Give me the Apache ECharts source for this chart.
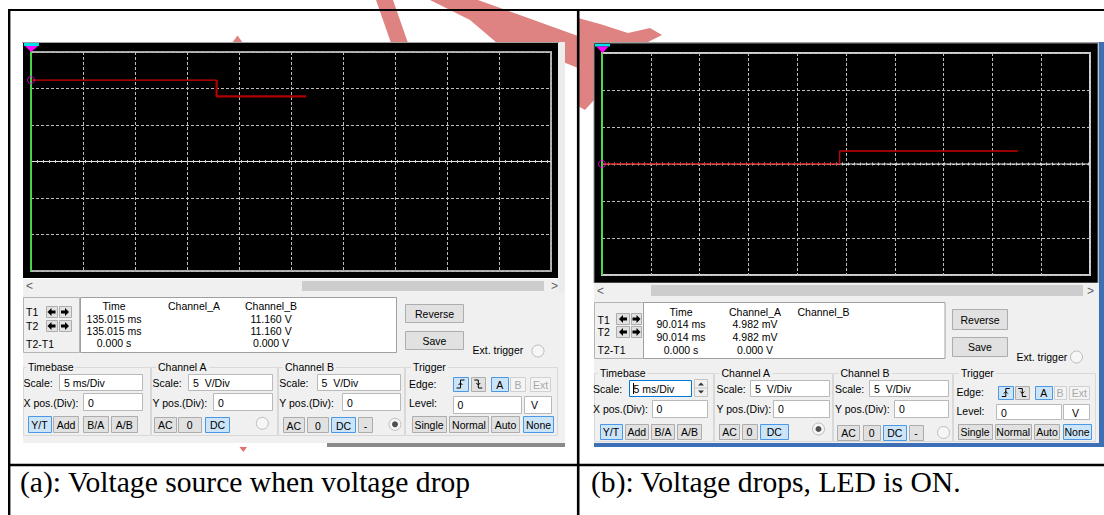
<!DOCTYPE html>
<html><head><meta charset="utf-8">
<script src="https://cdn.jsdelivr.net/npm/echarts@6/dist/echarts.min.js"></script>
<style>html,body{margin:0;padding:0;background:#fff;overflow:hidden}#c{width:1104px;height:515px}</style>
</head><body><div id="c"></div><script>
// ---------- data ----------
// left scope: time (ms, 5 ms/div) and volts (5 V/div)
const leftRedTime = [0, 17.85, 17.85, 26.45];
const leftRedVolt = [11.16, 11.16, 8.93, 8.93];
const leftWhiteTime = [0, 50];
const leftWhiteVolt = [0, 0];
// right scope
const rightRedTime = [0, 24.35, 24.35, 42.6];
const rightRedVolt = [0.005, 0.005, 1.76, 1.76];
const rightWhiteTime = [0, 50];
const rightWhiteVolt = [0, 0];
// readouts
const readHeaders = ['Time', 'Channel_A', 'Channel_B'];
const leftReadTime = ['135.015 ms', '135.015 ms', '0.000 s'];
const leftReadA = ['', '', ''];
const leftReadB = ['11.160 V', '11.160 V', '0.000 V'];
const rightReadTime = ['90.014 ms', '90.014 ms', '0.000 s'];
const rightReadA = ['4.982 mV', '4.982 mV', '0.000 V'];
const rightReadB = ['', '', ''];
const cursorLabels = ['T1', 'T2', 'T2-T1'];
const captions = ['(a): Voltage source when voltage drop', '(b): Voltage drops, LED is ON.'];

// ---------- helpers ----------
const F = '"Liberation Sans", Arial, sans-serif';
const els = [];
function R(x, y, w, h, fill, stroke, lw, z) {
  els.push({type: 'rect', silent: true, z: z == null ? 10 : z,
    shape: {x: x, y: y, width: w, height: h},
    style: {fill: fill || 'none', stroke: stroke || 'none', lineWidth: lw || (stroke ? 1 : 0)}});
}
function L(x1, y1, x2, y2, stroke, lw, z) {
  els.push({type: 'line', silent: true, z: z == null ? 12 : z,
    shape: {x1: x1, y1: y1, x2: x2, y2: y2}, style: {stroke: stroke, lineWidth: lw || 1}});
}
function P(points, fill, z) {
  els.push({type: 'polygon', silent: true, z: z == null ? 12 : z, shape: {points: points}, style: {fill: fill}});
}
function PL(points, stroke, lw, z) {
  els.push({type: 'polyline', silent: true, z: z == null ? 22 : z, shape: {points: points}, style: {stroke: stroke, lineWidth: lw || 1, fill: 'none'}});
}
function C(cx, cy, r, fill, stroke, z) {
  els.push({type: 'circle', silent: true, z: z == null ? 15 : z, shape: {cx: cx, cy: cy, r: r}, style: {fill: fill, stroke: stroke || 'none', lineWidth: 1}});
}
function T(x, y, s, o) {
  o = o || {};
  const st = {text: s, fill: o.color || '#000',
    font: (o.weight || 'normal') + ' ' + (o.size || 10.5) + 'px ' + (o.family || F),
    textAlign: o.align || 'left', textVerticalAlign: o.valign || 'middle',
    align: o.align || 'left', verticalAlign: o.valign || 'middle'};
  if (o.bg) { st.backgroundColor = o.bg; st.padding = [0, 2]; }
  els.push({type: 'text', silent: true, z: o.z || 30, x: x, y: y, style: st});
}
function B(x1, y1, x2, y2, label, state) {
  const fill = state === 'on' ? '#cce4f7' : state === 'dis' ? '#f4f4f4' : '#e1e1e1';
  const stroke = state === 'on' ? '#4a98e6' : state === 'dis' ? '#d0d0d0' : '#adadad';
  const X = Math.round(x1) + 0.5, Y = Math.round(y1) + 0.5;
  R(X, Y, Math.round(x2) - Math.round(x1) - 1, Math.round(y2) - Math.round(y1) - 1, fill, stroke, 1, 15);
  if (label) T((x1 + x2) / 2, (y1 + y2) / 2 + 0.5, label, {align: 'center', color: state === 'dis' ? '#a8a8a8' : '#000'});
}
function TB(x1, y1, x2, y2, label, focus, tx) {
  const X = Math.round(x1) + 0.5, Y = Math.round(y1) + 0.5;
  R(X, Y, Math.round(x2) - Math.round(x1) - 1, Math.round(y2) - Math.round(y1) - 1, '#fff', focus ? '#0078d7' : '#b9b9b9', 1, 15);
  if (label) T(tx != null ? tx : x1 + 5, (y1 + y2) / 2 + 0.5, label);
}
function RB(cx, cy, checked) {
  C(cx, cy, 6, '#f6f6f6', '#bdbdbd');
  if (checked) C(cx, cy, 3, '#505050', null, 16);
}
function GRP(x1, y1, x2, y2, label, lx) {
  R(Math.round(x1) + 0.5, Math.round(y1) + 0.5, Math.round(x2 - x1), Math.round(y2 - y1), 'none', '#d9d9d9', 1, 12);
  T(lx, y1, label, {bg: '#f0f0f0'});
}
function arrowL(cx, cy) { P([[cx - 4, cy], [cx, cy - 4], [cx, cy - 1.5], [cx + 4, cy - 1.5], [cx + 4, cy + 1.5], [cx, cy + 1.5], [cx, cy + 4]], '#000', 22); }
function arrowR(cx, cy) { P([[cx + 4, cy], [cx, cy - 4], [cx, cy - 1.5], [cx - 4, cy - 1.5], [cx - 4, cy + 1.5], [cx, cy + 1.5], [cx, cy + 4]], '#000', 22); }
function rising(cx, cy) { PL([[cx - 4, cy + 4], [cx, cy + 4], [cx, cy - 4], [cx + 4, cy - 4]], '#000', 1); PL([[cx - 2, cy + 1], [cx, cy - 1], [cx + 2, cy + 1]], '#000', 1); }
function falling(cx, cy) { PL([[cx - 4, cy - 4], [cx, cy - 4], [cx, cy + 4], [cx + 4, cy + 4]], '#000', 1); PL([[cx - 2, cy - 1], [cx, cy + 1], [cx + 2, cy - 1]], '#000', 1); }

// ---------- watermark (behind everything) ----------
const WM = '#df8282';
P([[232, 43], [237.5, 35.5], [243, 43]], WM, -20);
P([[376, 0], [393, 0], [408, 43], [391, 43]], WM, -20);
P([[430, 0], [478, 0], [578, 36], [578, 68], [548, 56], [532, 43], [497, 43], [470, 20]], WM, -20);
P([[578, 18], [600, 24], [628, 33], [650, 28], [662, 35], [640, 46], [612, 50], [594, 54], [594, 100], [585, 110], [578, 106]], WM, -20);

// ---------- LEFT instrument ----------
R(23, 43, 535, 235, '#000', null, 0, -5);
L(22, 42.5, 559, 42.5, '#a0a0a0', 1, -4);
R(558, 42, 7, 250, '#ececec', null, 0, -5);
// trigger marker
R(24, 43, 15, 3, '#00e0e8', null, 0, 5);
P([[25, 46], [38, 46], [31, 52]], '#ff00ff', 5);
// scrollbar
R(23, 279, 535, 13, '#f0f0f0', null, 0, 2);
R(302, 281, 242, 10, '#cdcdcd', null, 0, 3);
T(26, 286, '<', {color: '#606060', size: 12});
T(551, 286, '>', {color: '#606060', size: 12});
// panel
R(23, 292, 542, 151, '#f0f0f0', null, 0, 2);
R(23.5, 297.5, 56, 55, 'none', '#b4b4b4', 1, 12);
T(26, 312, cursorLabels[0]); T(26, 325.5, cursorLabels[1]); T(26, 344, cursorLabels[2]);
B(45.5, 306, 58, 318, ''); arrowL(51.5, 312); B(59, 306, 71.5, 318, ''); arrowR(65, 312);
B(45.5, 320, 58, 332, ''); arrowL(51.5, 326); B(59, 320, 71.5, 332, ''); arrowR(65, 326);
R(80.5, 297.5, 316, 55, '#fff', '#a0a0a0', 1, 12);
[[114, leftReadTime], [194, leftReadA], [271, leftReadB]].forEach(function (c, k) {
  T(c[0], 305.5, readHeaders[k], {align: 'center'});
  c[1].forEach(function (s, i) { if (s) T(c[0], [318.5, 331, 343][i], s, {align: 'center'}); });
});
B(405, 304, 464, 323, 'Reverse'); B(405, 331, 464, 350, 'Save');
T(472.5, 350, 'Ext. trigger'); RB(538, 351, false);
GRP(23, 367, 150, 435, 'Timebase', 26);
GRP(151, 367, 277, 435, 'Channel A', 156);
GRP(278, 367, 404, 435, 'Channel B', 283);
GRP(405, 367, 557, 435, 'Trigger', 411);
T(23.5, 383, 'Scale:'); TB(59, 374, 143, 391, '5 ms/Div');
T(23.5, 402.5, 'X pos.(Div):'); TB(83, 393, 143, 411, '0');
B(27.5, 416, 51.5, 432.5, 'Y/T', 'on'); B(53, 416, 79, 432.5, 'Add'); B(82.5, 416, 109, 432.5, 'B/A'); B(111, 416, 137.5, 432.5, 'A/B');
T(152.5, 383, 'Scale:'); TB(188, 374, 273, 391, '5  V/Div');
T(152.5, 402.5, 'Y pos.(Div):'); TB(213, 393, 273, 411, '0');
B(154, 416.5, 176.5, 432.5, 'AC'); B(178, 416.5, 201.5, 432.5, '0'); B(205, 416.5, 230, 432.5, 'DC', 'on'); RB(262.3, 423.3, false);
T(279.3, 383, 'Scale:'); TB(316.5, 374, 401, 391, '5  V/Div');
T(279.3, 402.5, 'Y pos.(Div):'); TB(342, 393, 401, 411, '0');
B(282.5, 417, 305, 433, 'AC'); B(307, 417, 329, 433, '0'); B(331, 417, 356, 433, 'DC', 'on'); B(358, 417, 373, 433, '-'); RB(395, 424.3, true);
T(409, 384, 'Edge:');
B(452.5, 376.5, 468.5, 391.5, '', 'on'); rising(460.5, 384);
B(470.5, 376.5, 486, 391.5, ''); falling(478.3, 384);
B(491, 376.5, 508.5, 391.5, 'A', 'on'); B(510, 376.5, 526, 391.5, 'B', 'dis'); B(530, 376.5, 551, 391.5, 'Ext', 'dis');
T(409, 403, 'Level:'); TB(452.5, 396, 521.5, 413.5, '0'); TB(524, 396, 551.5, 413.5, 'V', false, 531);
B(411.5, 416, 446.5, 432.5, 'Single'); B(449, 416, 489, 432.5, 'Normal'); B(491, 416, 520, 432.5, 'Auto'); B(523, 416, 554, 432.5, 'None', 'on');
R(327, 443, 238, 4, '#8a8a8a', null, 0, 2);
P([[239.5, 447], [247, 447], [243.3, 452]], '#e07070', 2);

// ---------- RIGHT instrument ----------
R(594, 43, 504, 240, '#000', '#8c8c8c', 1, -5);
L(592, 42.5, 1100, 42.5, '#a0a0a0', 1, -4);
R(1099, 42, 5, 405, '#3d6fb6', null, 0, 2);
R(595, 44, 15, 2.5, '#00e0e8', null, 0, 5);
P([[596.5, 46.5], [608.5, 46.5], [602.5, 53]], '#ff00ff', 5);
R(594, 283, 505, 15, '#f0f0f0', null, 0, 2);
R(651, 285, 432, 11, '#cdcdcd', null, 0, 3);
T(597, 291, '<', {color: '#606060', size: 12});
T(1087, 291, '>', {color: '#606060', size: 12});
R(594, 298, 505, 145, '#f0f0f0', null, 0, 2);
R(594.5, 302.5, 49, 56, 'none', '#b4b4b4', 1, 12);
T(597.5, 319.5, cursorLabels[0]); T(597.5, 332, cursorLabels[1]); T(597.5, 350, cursorLabels[2]);
B(616, 313, 630, 325, ''); arrowL(623, 319); B(631, 313, 642, 325, ''); arrowR(636.5, 319);
B(616, 326, 630, 338, ''); arrowL(623, 332); B(631, 326, 642, 338, ''); arrowR(636.5, 332);
R(643.5, 302.5, 301.5, 56, '#fff', '#a0a0a0', 1, 12);
[[681, rightReadTime], [755, rightReadA], [823.5, rightReadB]].forEach(function (c, k) {
  T(c[0], 311.5, readHeaders[k], {align: 'center'});
  c[1].forEach(function (s, i) { if (s) T(c[0], [324, 337, 350][i], s, {align: 'center'}); });
});
B(952, 309, 1008, 330, 'Reverse'); B(952, 336.5, 1008, 356.5, 'Save');
T(1016.5, 357, 'Ext. trigger'); RB(1076.5, 357, false);
GRP(594, 373, 713, 441, 'Timebase', 598);
GRP(714, 373, 832, 441, 'Channel A', 719.5);
GRP(833, 373, 952, 441, 'Channel B', 838.5);
GRP(953, 373, 1095, 441, 'Trigger', 959);
T(593, 389, 'Scale:'); TB(628.5, 379.5, 691.5, 397, '5 ms/Div', true, 633.5); L(633.5, 383, 633.5, 394, '#000', 1, 31);
R(694.5, 379.5, 13, 17, '#f0f0f0', '#c4c4c4', 1, 15); L(695, 388, 707, 388, '#c4c4c4', 1, 16);
P([[698, 385.5], [704, 385.5], [701, 382.5]], '#333', 22); P([[698, 390.5], [704, 390.5], [701, 393.5]], '#333', 22);
T(593, 409, 'X pos.(Div):'); TB(651.5, 399.5, 707.5, 418, '0');
B(599.5, 423.5, 622.5, 439.5, 'Y/T', 'on'); B(624.5, 423.5, 649, 439.5, 'Add'); B(651, 423.5, 675, 439.5, 'B/A'); B(677, 423.5, 702, 439.5, 'A/B');
T(716.5, 389, 'Scale:'); TB(750, 379.5, 830, 397, '5  V/Div');
T(716.5, 409, 'Y pos.(Div):'); TB(773, 399.5, 830, 418, '0');
B(719, 423.5, 740, 439.5, 'AC'); B(741.5, 423.5, 757.5, 439.5, '0'); B(760, 423.5, 788.5, 439.5, 'DC', 'on'); RB(818.5, 429, true);
T(835, 389, 'Scale:'); TB(869, 379.5, 949, 397, '5  V/Div');
T(835, 409, 'Y pos.(Div):'); TB(894, 399.5, 949, 418, '0');
B(837, 424.5, 860, 441, 'AC'); B(862.5, 424.5, 881, 441, '0'); B(883, 424.5, 906.5, 441, 'DC', 'on'); B(908.5, 424.5, 923.5, 441, '-'); RB(943.5, 432.5, false);
T(956.5, 391.5, 'Edge:');
B(998, 385.5, 1013.5, 399.5, '', 'on'); rising(1005.8, 392.5);
B(1014.5, 385.5, 1030, 399.5, ''); falling(1022.3, 392.5);
B(1035, 385.5, 1052.5, 399.5, 'A', 'on'); B(1053.5, 385.5, 1066.5, 399.5, 'B', 'dis'); B(1069, 385.5, 1089.5, 399.5, 'Ext', 'dis');
T(956.5, 410.5, 'Level:'); TB(996, 404, 1061.5, 420, '0'); TB(1063, 404, 1090, 420, 'V', false, 1072);
B(957.5, 423.5, 992.5, 439.5, 'Single'); B(995, 423.5, 1031.5, 439.5, 'Normal'); B(1034, 423.5, 1060, 439.5, 'Auto'); B(1062.5, 423.5, 1091.5, 439.5, 'None', 'on');
R(594, 443, 510, 4, '#3d6fb6', null, 0, 2);

// ---------- table and captions ----------
L(8, 10, 1104, 10, '#000', 2.2, 50);
L(9.2, 9, 9.2, 515, '#000', 2.4, 50);
L(578.2, 9, 578.2, 515, '#000', 2.6, 50);
L(8, 465, 1104, 465, '#000', 2.4, 50);
const SERIF = '"Liberation Serif", "Times New Roman", serif';
T(20, 482, captions[0], {size: 29.6, family: SERIF});
T(591, 482, captions[1], {size: 29.6, family: SERIF});

// ---------- charts ----------
function pairs(t, v) { return t.map(function (x, i) { return [x, v[i]]; }); }
function axisX(g) { return {gridIndex: g, type: 'value', min: 0, max: 50, interval: 5, axisLine: {show: false}, axisTick: {show: false}, axisLabel: {show: false}, splitLine: {show: true, lineStyle: {color: '#bdbdbd', type: [3, 2], width: 1}}}; }
function axisY(g) { return {gridIndex: g, type: 'value', min: -15, max: 15, interval: 5, axisLine: {show: false}, axisTick: {show: false}, axisLabel: {show: false}, splitLine: {show: true, lineStyle: {color: '#bdbdbd', type: [3, 2], width: 1}}}; }
function whiteSeries(g, t, v) {
  return [
    {type: 'line', xAxisIndex: g, yAxisIndex: g, data: pairs(t, v), symbol: 'none', z: 3, silent: true,
      lineStyle: {color: '#e6e6e6', width: 1},
      markLine: {silent: true, symbol: ['none', 'none'], label: {show: false}, animation: false,
        lineStyle: {color: '#2edc2e', width: 1.6, type: 'solid'}, data: [{xAxis: t[0]}]}},
    {type: 'line', xAxisIndex: g, yAxisIndex: g, data: pairs(t, v), symbol: 'none', z: 3, silent: true,
      lineStyle: {color: '#d0d0d0', width: 3, type: [1, 5]}}
  ];
}
const series = [].concat(
  whiteSeries(0, leftWhiteTime, leftWhiteVolt),
  [{type: 'line', xAxisIndex: 0, yAxisIndex: 0, data: pairs(leftRedTime.slice(0, 2), leftRedVolt.slice(0, 2)), symbol: 'none', z: 4, silent: true, lineStyle: {color: '#d40000', width: 1.3}},
   {type: 'line', xAxisIndex: 0, yAxisIndex: 0, data: pairs(leftRedTime.slice(1), leftRedVolt.slice(1)), symbol: 'none', z: 4, silent: true, lineStyle: {color: '#b00000', width: 2.2}},
   {type: 'scatter', xAxisIndex: 0, yAxisIndex: 0, data: [[leftRedTime[0], leftRedVolt[0]]], symbol: 'circle', symbolSize: 7, z: 5, silent: true, itemStyle: {color: 'rgba(0,0,0,0)', borderColor: '#ff00ff', borderWidth: 1}}],
  whiteSeries(1, rightWhiteTime, rightWhiteVolt),
  [{type: 'line', xAxisIndex: 1, yAxisIndex: 1, data: pairs(rightRedTime, rightRedVolt), symbol: 'none', z: 4, silent: true, lineStyle: {color: '#cc0000', width: 1.3}},
   {type: 'scatter', xAxisIndex: 1, yAxisIndex: 1, data: [[rightRedTime[0], rightRedVolt[0]]], symbol: 'circle', symbolSize: 7, z: 5, silent: true, itemStyle: {color: 'rgba(0,0,0,0)', borderColor: '#ff00ff', borderWidth: 1}}]
);

const chart = echarts.init(document.getElementById('c'), null, {renderer: 'svg', width: 1104, height: 515});
chart.setOption({
  animation: false,
  backgroundColor: '#fff',
  grid: [
    {left: 31, top: 52, width: 520, height: 219, show: true, backgroundColor: '#000', borderColor: '#a8a8a8', borderWidth: 2},
    {left: 602, top: 53, width: 488, height: 222, show: true, backgroundColor: '#000', borderColor: '#cfcfcf', borderWidth: 2}
  ],
  xAxis: [axisX(0), axisX(1)],
  yAxis: [axisY(0), axisY(1)],
  series: series,
  graphic: {elements: els}
});
</script></body></html>
